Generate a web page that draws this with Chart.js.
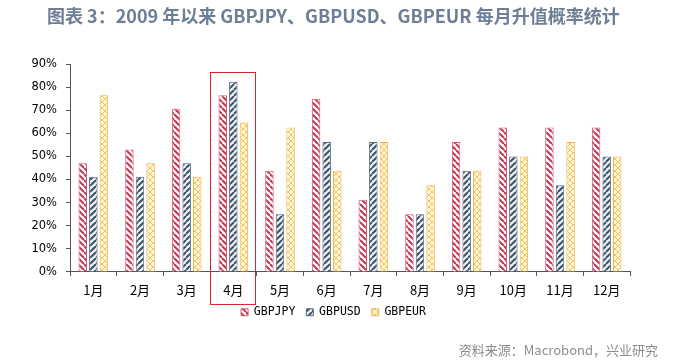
<!doctype html>
<html>
<head>
	<meta charset="UTF-8">
	<title>GBP 每月升值概率统计</title>
	<script src="https://cdn.jsdelivr.net/npm/chart.js@4.4.1/dist/chart.umd.min.js"></script>
	<style>
		html, body { margin: 0; padding: 0; background: #fff; }
		#chart-area { display: block; }
	</style>
</head>
<body>
<canvas id="chart-area" width="695" height="362"></canvas>
<script>
	// 月份
	var months = ['1月', '2月', '3月', '4月', '5月', '6月', '7月', '8月', '9月', '10月', '11月', '12月'];
	// 升值概率 (%)
	var gbpjpy = [47.06, 52.94, 70.59, 76.47, 43.75, 75.00, 31.25, 25.00, 56.25, 62.50, 62.50, 62.50];
	var gbpusd = [41.18, 41.18, 47.06, 82.35, 25.00, 56.25, 56.25, 25.00, 43.75, 50.00, 37.50, 50.00];
	var gbpeur = [76.47, 47.06, 41.18, 64.71, 62.50, 43.75, 56.25, 37.50, 43.75, 50.00, 56.25, 50.00];
	var yTicks = [0, 10, 20, 30, 40, 50, 60, 70, 80, 90];
	var highlightMonth = 3; // 4月

	// 斜线填充
	function stripes(color, bg, dir) {
		var c = document.createElement('canvas');
		c.width = 6; c.height = 6;
		var g = c.getContext('2d');
		g.fillStyle = bg;
		g.fillRect(0, 0, 6, 6);
		g.strokeStyle = color;
		g.lineWidth = 2;
		g.beginPath();
		for (var k = -6; k <= 6; k += 6) {
			if (dir === '\\') { g.moveTo(k, 0); g.lineTo(k + 6, 6); }
			else { g.moveTo(k, 6); g.lineTo(k + 6, 0); }
		}
		g.stroke();
		return g.createPattern(c, 'repeat');
	}
	function crosshatch(color, bg) {
		var c = document.createElement('canvas');
		c.width = 6; c.height = 6;
		var g = c.getContext('2d');
		g.fillStyle = bg;
		g.fillRect(0, 0, 6, 6);
		g.strokeStyle = color;
		g.lineWidth = 1;
		g.beginPath();
		for (var k = -6; k <= 6; k += 6) {
			g.moveTo(k, 0); g.lineTo(k + 6, 6);
			g.moveTo(k, 6); g.lineTo(k + 6, 0);
		}
		g.stroke();
		return g.createPattern(c, 'repeat');
	}

	var titleText = '图表 3：2009 年以来 GBPJPY、GBPUSD、GBPEUR 每月升值概率统计';
	var sourceText = '资料来源：Macrobond，兴业研究';

	var extras = {
		id: 'extras',
		afterLayout: function (chart) {
			// 图例往右、往上挪一点
			var lg = chart.legend;
			lg.left = 37;
			lg.top -= 8;
			lg.bottom -= 8;
		},
		afterDraw: function (chart) {
			var ctx = chart.ctx;
			var x = chart.scales.x, y = chart.scales.y;
			ctx.save();
			// 标题
			ctx.font = 'bold 18px "Noto Sans CJK SC"';
			ctx.fillStyle = '#6E7E97';
			ctx.textBaseline = 'middle';
			ctx.textAlign = 'left';
			ctx.fillText(titleText, 47, 16);
			// 来源
			ctx.font = '13px "Noto Sans CJK SC"';
			ctx.fillStyle = '#8C8C8C';
			ctx.textAlign = 'right';
			ctx.fillText(sourceText, 658, 350);
			// 4月 红框
			var w = (x.right - x.left) / months.length;
			var cx = x.getPixelForValue(highlightMonth);
			ctx.strokeStyle = '#D8262E';
			ctx.lineWidth = 1;
			ctx.strokeRect(Math.round(cx - w / 2) + 0.5, Math.round(y.getPixelForValue(86.5)) + 0.5,
				Math.round(w) - 2, Math.round(y.bottom + 32 - y.getPixelForValue(86.5)));
			ctx.restore();
		}
	};

	var config = {
		type: 'bar',
		data: {
			labels: months,
			datasets: [
				{
					label: 'GBPJPY',
					data: gbpjpy,
					backgroundColor: stripes('#C8344F', '#FFFFFF', '\\'),
					borderColor: '#D65872',
					borderWidth: 1
				},
				{
					label: 'GBPUSD',
					data: gbpusd,
					backgroundColor: stripes('#3E4F66', '#EAF3FA', '/'),
					borderColor: '#56667C',
					borderWidth: 1
				},
				{
					label: 'GBPEUR',
					data: gbpeur,
					backgroundColor: crosshatch('#F2C466', '#FFF6D8'),
					borderColor: '#F0B445',
					borderWidth: 1
				}
			]
		},
		options: {
			responsive: false,
			devicePixelRatio: 1,
			animation: false,
			layout: { padding: { top: 64, left: 0, right: 65, bottom: 26 } },
			datasets: { bar: { categoryPercentage: 0.68, barPercentage: 0.8 } },
			scales: {
				x: {
					grid: { drawOnChartArea: false, drawTicks: true, tickLength: 4, color: '#555' },
					border: { color: '#555', width: 1 },
					ticks: { color: '#000', padding: 6, font: { family: '"Noto Sans CJK SC"', size: 13 } }
				},
				y: {
					min: 0,
					max: 90,
					afterBuildTicks: function (axis) {
						axis.ticks = yTicks.map(function (v) { return { value: v }; });
					},
					afterFit: function (axis) { axis.width = 70; },
					grid: { drawOnChartArea: false, drawTicks: true, tickLength: 4, color: '#555' },
					border: { color: '#555', width: 1 },
					ticks: {
						color: '#000',
						padding: 9,
						font: { family: '"DejaVu Sans"', size: 11.5 },
						callback: function (v) { return v + '%'; }
					}
				}
			},
			plugins: {
				legend: {
					position: 'bottom',
					labels: {
						boxWidth: 7,
						boxHeight: 7,
						padding: 11,
						color: '#000',
						font: { family: '"DejaVu Sans Mono"', size: 11.5 }
					}
				},
				title: { display: false },
				tooltip: { enabled: false }
			}
		},
		plugins: [extras]
	};

	var ctx = document.getElementById('chart-area').getContext('2d');
	window.myBar = new Chart(ctx, config);
</script>
</body>
</html>
